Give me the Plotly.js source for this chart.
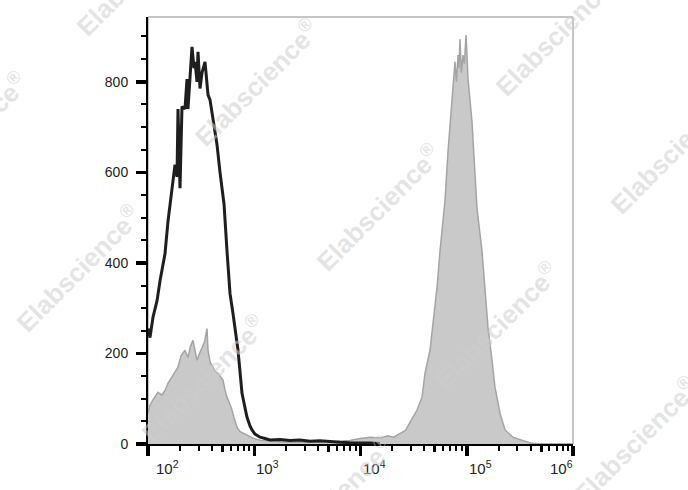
<!DOCTYPE html>
<html>
<head>
<meta charset="utf-8">
<script src="https://cdn.plot.ly/plotly-3.0.1.min.js"></script>
<style>html,body{margin:0;padding:0;background:#fff;}#chart{width:688px;height:490px;}</style>
</head>
<body>
<div id="chart"></div>
<script>
// Black open histogram (isotype / unstained)
const blackX = [100,104.4,111.4,121.5,129.7,138.4,144.5,154.3,161.1,168.2,175.7,179.5,187.5,191.6,200.1,208.9,222.9,232.8,237.9,248.5,259.5,271.0,277.0,289.3,295.6,308.7,322.3,344.0,359.3,367.1,383.4,400.4,427.3,446.2,476.2,497.3,519.3,554.2,591.5,631.0,673.4,703.3,734.4,766.9,818.4,854.8,912.0,952.4,1016,1133,1262,1407,1748,2170,2695,3348,4157,5164,6415,7966,9892,12290,15260];
const blackY = [255,235,280,316,360,398,420,492,530,560,600,617,590,740,565,745,740,806,740,820,877,830,844,800,866,785,820,844,790,771,760,734,690,661,600,565,530,426,332,288,240,207,160,112,80,59,40,31,22,15,12,9,10,8,9,6,7,5,4,3,3,2,1];

// Grey filled histogram (stained)
const greyX = [100,104,111,118,124,135,145,155,168,180,191,205,223,238,250,265,280,289,305,322,340,359,367,385,409,430,456,480,508,530,554,585,618,650,689,730,783,870,973,1150,1406,1750,2168,2700,3350,4157,5166,6415,7966,9892,12280,15280,18000,20500,23550,26500,29240,34040,37910,40460,45080,48090,52460,55990,59760,62350,66620,72650,77460,80000,82760,84500,86370,89000,92200,95000,98410,100500,102700,112000,119600,124800,139200,148500,158500,172900,184500,205600,229200,272300,338000,400000,488600,1000000];
const greyY = [68,85,97,105,114,108,119,135,147,160,169,195,207,191,215,229,200,185,200,213,225,255,207,180,169,160,156,150,141,120,103,90,75,55,37,28,24,18,13,8,6,5,4,4,3,4,5,6,8,12,15,13,18,15,24,30,48,75,103,156,207,266,345,426,492,536,646,763,844,800,859,830,894,820,859,840,903,860,807,712,609,521,426,338,257,185,125,68,31,15,7,2,0,0];

const yTickVals = [0,200,400,600,800];
const yTickText = ['0','200','400','600','800'];
const xDecades = [100,1000,10000,100000,1000000];
const xDecadeText = ['10<sup>2</sup>','10<sup>3</sup>','10<sup>4</sup>','10<sup>5</sup>','10<sup>6</sup>'];
const xMinorVals = [];
[100,1000,10000,100000].forEach(d=>{[2,3,4,6,7,8,9].forEach(m=>xMinorVals.push(d*m));});
const xMidVals = [500,5000,50000,500000];

const watermark = 'Elabscience<sup>®</sup>';
// watermark centre positions in pixels
const wmPix = [[138,-28],[257,83],[557,32],[-35,135],[378,207],[672,150],[78,268],[496,325],[203,378],[635,440],[332,500]];

const L=148, R=573, T=17, B=444;
const annotations = [];
xDecades.forEach((v,i)=>{
  annotations.push({
    x: Math.log10(v), xref:'x', y:0, yref:'paper',
    xanchor: i===xDecades.length-1 ? 'right' : 'left',
    xshift: i===0 ? 6 : (i===xDecades.length-1 ? 2 : 0),
    yanchor:'top', yshift:-12,
    text: xDecadeText[i], showarrow:false,
    font:{family:'Liberation Sans, Arial, sans-serif', size:15, color:'#222'}
  });
});
wmPix.forEach(p=>{
  annotations.push({
    x:(p[0]-L)/(R-L), y:(B-p[1])/(B-T), xref:'paper', yref:'paper',
    text: watermark, showarrow:false, textangle:-45,
    xanchor:'center', yanchor:'middle',
    font:{family:'Liberation Sans, Arial, sans-serif', size:26, color:'rgba(205,205,205,0.55)', weight:'bold'}
  });
});

const traces = [
  {x: greyX, y: greyY, type:'scatter', mode:'lines', fill:'tozeroy',
   fillcolor:'#c9c9c9', line:{color:'#a4a4a4', width:1.5}, hoverinfo:'skip', xaxis:'x', yaxis:'y'},
  {x: blackX, y: blackY, type:'scatter', mode:'lines',
   line:{color:'#1e1e1e', width:3}, hoverinfo:'skip', xaxis:'x', yaxis:'y'},
  {x:[1000], y:[-10], type:'scatter', mode:'markers', marker:{opacity:0}, xaxis:'x2', yaxis:'y', hoverinfo:'skip'}
];

const layout = {
  width:688, height:490,
  margin:{l:L, r:688-R, t:T, b:490-B},
  paper_bgcolor:'#fff', plot_bgcolor:'#fff',
  showlegend:false,
  font:{family:'Liberation Sans, Arial, sans-serif', size:14, color:'#222'},
  xaxis:{type:'log', range:[2,6], showgrid:false, zeroline:false,
    showline:true, linecolor:'#000', linewidth:2,
    ticks:'outside', tickvals:xDecades, ticktext:xDecades.map(()=>''), ticklen:10, tickwidth:3.5, tickcolor:'#000',
    showticklabels:false,
    minor:{tickvals:xMinorVals, ticks:'outside', ticklen:5, tickwidth:2, tickcolor:'#000', showgrid:false}},
  xaxis2:{type:'log', range:[2,6], overlaying:'x', side:'bottom', showgrid:false, zeroline:false,
    showline:false, ticks:'outside', tickvals:xMidVals, ticklen:7, tickwidth:3, tickcolor:'#000', showticklabels:false},
  yaxis:{range:[0,943], showgrid:false, zeroline:false,
    showline:true, linecolor:'#000', linewidth:2,
    ticks:'outside', tickvals:yTickVals, ticktext:yTickText, ticklen:10, tickwidth:3.5, tickcolor:'#000',
    ticklabelstandoff:5,
    tickfont:{size:14, color:'#222'},
    minor:{dtick:50, ticks:'outside', ticklen:5, tickwidth:2, tickcolor:'#000', showgrid:false}},
  shapes:[{type:'rect', xref:'paper', yref:'paper', x0:0, x1:1, y0:0, y1:1,
    line:{color:'#8a8a8a', width:1}, layer:'below'}],
  annotations: annotations
};

Plotly.newPlot('chart', traces, layout, {staticPlot:true, displayModeBar:false});
</script>
</body>
</html>
